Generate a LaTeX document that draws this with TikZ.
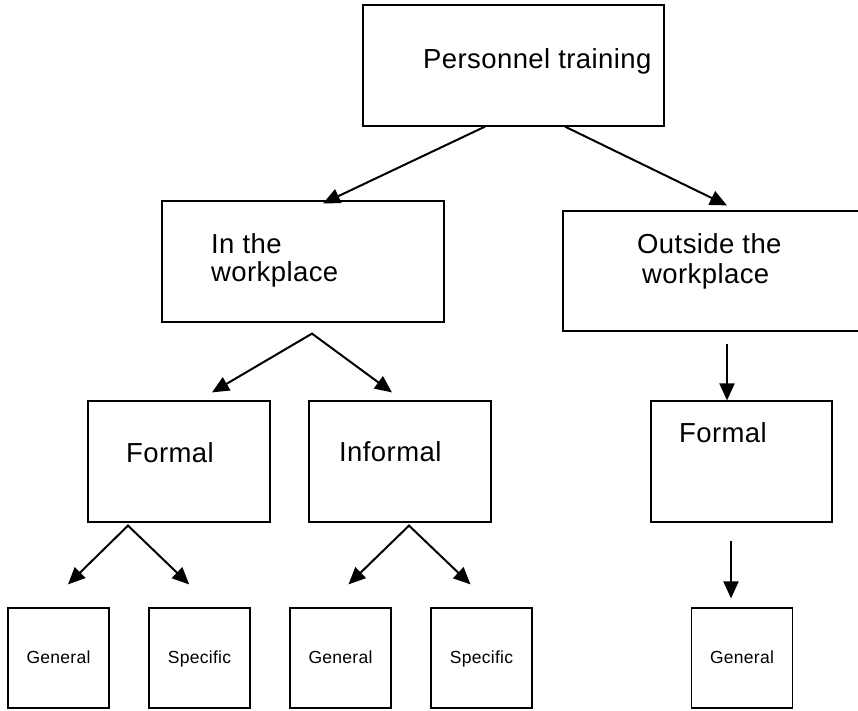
\documentclass[tikz,border=0pt]{standalone}
\usepackage{fontspec}
\setmainfont{Liberation Sans}[LetterSpace=1.5]
\usetikzlibrary{arrows.meta, positioning}

\tikzset{bigtri/.tip={Triangle[length=17pt, width=15pt]}}

\begin{document}
\begin{tikzpicture}[
    x=1pt, y=-1pt, % work in picture pixels, y going down
    box/.style 2 args={draw, line width=1.2pt, inner sep=0pt, minimum width=#1, minimum height=#2},
    leaf/.style={box={101pt}{100pt}, font=\fontsize{17.5}{21}\selectfont, text height=13pt, text depth=3pt},
    lbl/.style={anchor=base west, inner sep=0pt, font=\fontsize{27.5}{33}\selectfont},
    arr/.style={line width=2pt, -bigtri}, % single arrow
    split/.style={line width=2pt, bigtri-bigtri, line join=miter}, % forked arrow
    node distance=38.8pt
  ]

  \clip (0,0) rectangle (858,710);
  \fill[white] (0,0) rectangle (858,710);

  % Boxes
  \node (pt) [box={301pt}{121pt}] at (513.5,65.5) {};
  \node (iw) [box={282pt}{121pt}] at (303,261.5) {};
  \node (ow) [box={317pt}{120pt}] at (721.5,271) {};
  \node (fl) [box={182pt}{121pt}] at (179,461.5) {};
  \node (inf) [box={182pt}{121pt}] at (400,461.5) {};
  \node (fr) [box={181pt}{121pt}] at (741.5,461.5) {};

  \node (g1) [leaf] at (58.5,658) {General};
  \node (s1) [leaf, right=of g1] {Specific};
  \node (g2) [leaf, right=of s1] {General};
  \node (s2) [leaf, right=of g2] {Specific};
  \node (g3) [leaf] at (742,658) {General};

  % Labels
  \node (ptl) [lbl] at (423,68) {Personnel training};
  \node (iwl1) [lbl] at (211,253) {In the};
  \node (iwl2) [lbl] at (211,281) {workplace};
  \node (owl1) [lbl] at (637,253) {Outside the};
  \node (owl2) [lbl] at (642,283) {workplace};
  \node (fll) [lbl] at (126,462) {Formal};
  \node (infl) [lbl] at (339,461) {Informal};
  \node (frl) [lbl] at (679,442) {Formal};

  % Arrows
  \draw[arr] ([xshift=-28.5pt]pt.south) -- ([xshift=20pt,yshift=-3pt]iw.north);
  \draw[arr] ([xshift=51.5pt]pt.south) -- ([xshift=5.5pt,yshift=5pt]ow.north);

  \coordinate (iwfork) at ([xshift=9pt,yshift=-11pt]iw.south);
  \draw[split] ([xshift=33pt,yshift=8pt]fl.north) -- (iwfork) -- ([xshift=-8pt,yshift=8pt]inf.north);

  \draw[arr] ([xshift=5.5pt,yshift=-12pt]ow.south) -- ([xshift=-14.5pt]fr.north);

  \coordinate (flfork) at ([xshift=-51pt,yshift=-3pt]fl.south);
  \draw[split] ([xshift=9.5pt,yshift=23pt]g1.north) -- (flfork) -- ([xshift=-10.3pt,yshift=23pt]s1.north);

  \coordinate (inffork) at ([xshift=9pt,yshift=-3pt]inf.south);
  \draw[split] ([xshift=8pt,yshift=23pt]g2.north) -- (inffork) -- ([xshift=-11pt,yshift=23pt]s2.north);

  \draw[arr] ([xshift=-10.5pt,yshift=-18pt]fr.south) -- ([xshift=-11pt,yshift=9pt]g3.north);

\end{tikzpicture}
\end{document}
